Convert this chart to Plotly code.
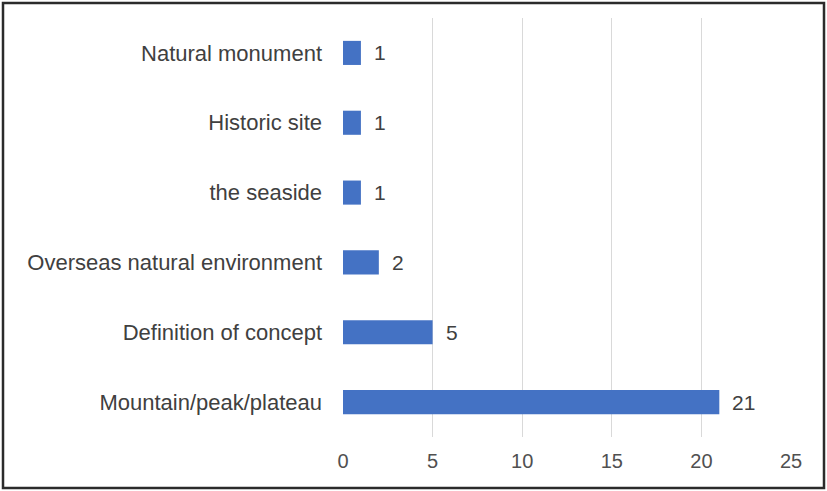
import plotly.graph_objects as go

categories = ["Mountain/peak/plateau", "Definition of concept", "Overseas natural environment",
              "the seaside", "Historic site", "Natural monument"]
values = [21, 5, 2, 1, 1, 1]
x_ticks = [0, 5, 10, 15, 20, 25]

W, H = 827, 491
L, R, T, B = 343, 36, 18, 54
pw, ph = W - L - R, H - T - B
FONT = "Liberation Sans, Arial"

fig = go.Figure()
fig.add_trace(go.Bar(
    y=categories, x=values, orientation="h",
    marker=dict(color="#4472c4", line=dict(width=0)),
    width=0.345,
))
for c, v in zip(categories, values):
    fig.add_annotation(x=v, y=c, text=str(v), showarrow=False, xanchor="left",
                       xshift=11, font=dict(size=21, color="#404040", family=FONT))

def px_x(p):
    return (p - L) / pw

def px_y(p):
    return (H - B - p) / ph

fig.add_shape(type="rect", xref="paper", yref="paper",
              x0=px_x(3), x1=px_x(824), y0=px_y(488), y1=px_y(3),
              line=dict(color="#2b2b2b", width=2.5), fillcolor="rgba(0,0,0,0)")

fig.update_layout(
    width=W, height=H,
    margin=dict(l=L, r=R, t=T, b=B),
    paper_bgcolor="white", plot_bgcolor="white",
    showlegend=False,
    font=dict(family=FONT, size=20, color="#444444"),
    xaxis=dict(range=[0, 25], tickvals=x_ticks, showgrid=True, gridcolor="#d9d9d9",
               gridwidth=1, zeroline=False, showline=False, ticks="",
               ticklabelstandoff=10, tickfont=dict(size=20, color="#505050")),
    yaxis=dict(categoryorder="array", categoryarray=categories, showgrid=False,
               zeroline=False, showline=False, ticks="", ticklabelstandoff=20,
               tickfont=dict(size=22, color="#404040")),
)
fig.write_html("out.html")
